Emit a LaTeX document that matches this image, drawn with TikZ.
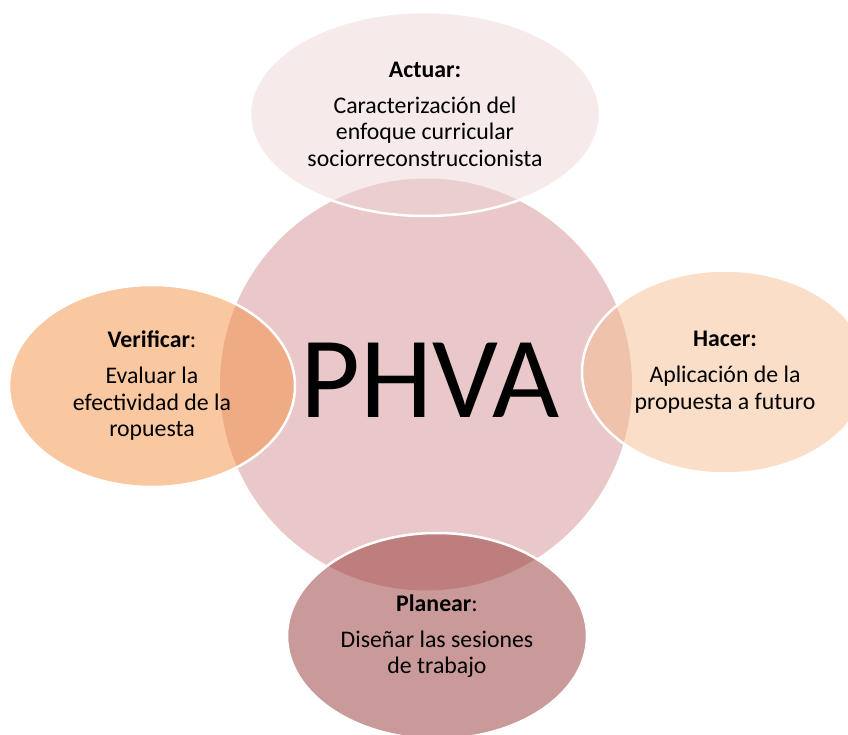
\documentclass[tikz,border=0pt]{standalone}
\usepackage{fontspec}
\setmainfont{Carlito}
\usetikzlibrary{shapes.geometric}
\definecolor{hubpink}{RGB}{234,200,201}
\definecolor{actcol}{RGB}{237,213,213}
\definecolor{vercol}{RGB}{243,143,65}
\definecolor{haccol}{RGB}{245,189,145}
\definecolor{placol}{RGB}{149,53,53}
\tikzset{
  petal/.style={ellipse,draw=white,line width=2.5pt,fill opacity=0.5,
    text opacity=1,inner sep=0pt,align=center,
    font=\fontsize{23.8}{26.5}\selectfont},
}

\begin{document}
\begin{tikzpicture}[x=1pt,y=-1pt,line cap=round,line join=round]
  \useasboundingbox (0,0) rectangle (848,735);
  \coordinate (O) at (426,384.5);
  \coordinate (T) at (425,114);
  \coordinate (L) at (152,386);
  \coordinate (R) at (725,372);
  \coordinate (B) at (437,636);
  \node[circle,fill=hubpink,minimum size=412pt,inner sep=0pt] (hub) at (O) {};
  \node[petal,fill=actcol,minimum width=350pt,minimum height=204pt] (actuar) at (T)
    {\textbf{Actuar:}\\[9.5pt]Caracterización del\\enfoque curricular\\sociorreconstruccionista};
  \node[petal,fill=vercol,minimum width=286pt,minimum height=202pt] (verificar) at (L)
    {\textbf{Verificar}:\\[9.5pt]Evaluar la\\efectividad de la\\ropuesta};
  \node[petal,fill=haccol,minimum width=286pt,minimum height=203pt] (hacer) at (R)
    {\textbf{Hacer:}\\[9.5pt]Aplicación de la\\propuesta a futuro};
  \node[petal,fill=placol,minimum width=300pt,minimum height=206pt] (planear) at (B)
    {\textbf{Planear}:\\[9.5pt]Diseñar las sesiones\\de trabajo};
  \node[anchor=base,inner sep=0pt,font=\fontsize{116}{116}\selectfont] (phva) at (430,417) {PHVA};
\end{tikzpicture}
\end{document}
